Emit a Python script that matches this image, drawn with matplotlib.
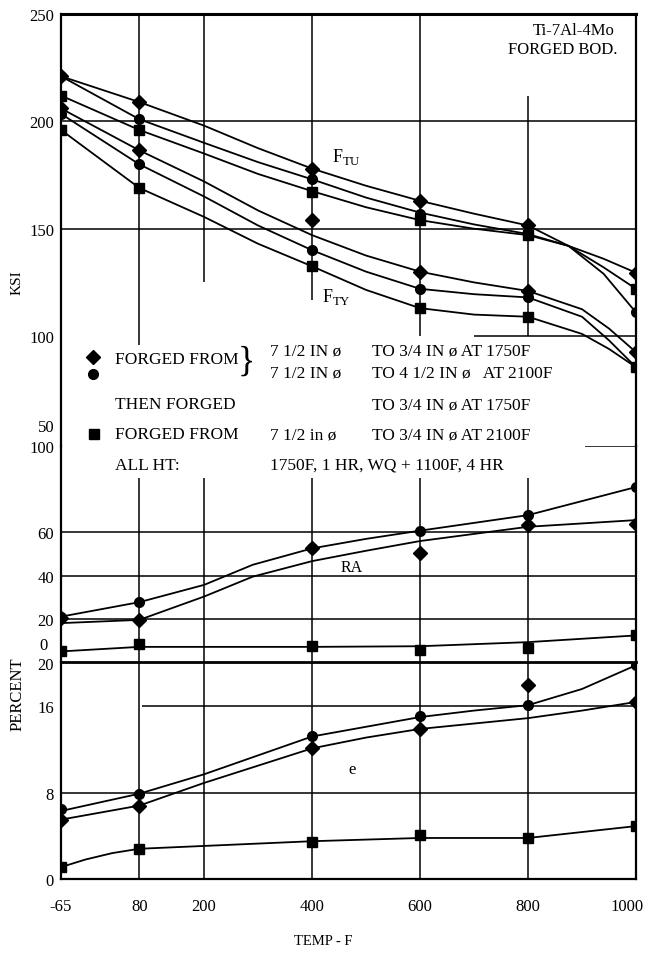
import matplotlib
matplotlib.use("Agg")
import matplotlib.pyplot as plt
import matplotlib.transforms as mtransforms
from matplotlib.lines import Line2D

plt.rcParams['font.family'] = ['Liberation Serif', 'DejaVu Serif']
plt.rcParams['mathtext.fontset'] = 'custom'
plt.rcParams['mathtext.rm'] = 'Liberation Serif'
plt.rcParams['axes.unicode_minus'] = False

### Data ###

temps = [-65, 80, 400, 600, 800, 1000]
xticks = [-65, 80, 200, 400, 600, 800, 1000]

# tensile ultimate, ksi (markers)
ftu_dia = [221, 209, 178, 163, 151.5, 129.5]
ftu_cir = [221, 201, 173, 157, 147.5, 111]
ftu_sq = [212, 196, 167, 154, 147, 122]
# tensile yield, ksi (markers)
fty_dia = [206, 186.5, 154, 130, 121, 92.5]
fty_cir = [203.5, 180, 140, 122, 118, 85.5]
fty_sq = [196, 169, 132.5, 113, 109, 85.5]

# faired curves
ftu_fit_t = [-65, 80, 200, 300, 400, 500, 600, 700, 800, 875, 940, 1000]
ftu_dia_fit = [221, 209, 198, 187.5, 178, 170, 163, 157, 151.5, 142, 136, 129.5]
ftu_cir_fit = [221, 201, 190, 181, 173, 164.5, 157.5, 152, 147.5, 142, 129, 111]
ftu_sq_fit = [212, 196, 185, 175.5, 167.5, 160, 154, 150, 147, 142, 132, 122]

fty_fit_t = [-65, 80, 200, 300, 400, 500, 600, 700, 800, 900, 950, 1000]
fty_dia_fit = [206, 186.5, 172, 158.5, 147, 137.5, 130, 125, 121, 112.5, 103.5, 92.5]
fty_cir_fit = [203.5, 180, 165, 151.5, 140, 130, 122, 119.5, 118, 109, 98, 85.5]
fty_sq_fit = [196, 169, 155.5, 143, 132.5, 121.5, 113, 110, 109, 101, 94, 85.5]

# reduction of area, percent
ra_dia = [20.6, 19.5, 52.6, 50.3, 63.4, 63.7]
ra_cir = [21, 27.7, 52.6, 60.8, 68, 81]
ra_sq = [4.9, 8.3, 7.2, 5.4, 6.5, 12.3]
ra_fit_t = [-65, 80, 200, 290, 400, 500, 600, 800, 1000]
ra_dia_fit = [18, 19.5, 30.3, 39.5, 46.7, 51.5, 56, 62.6, 65.7]
ra_cir_fit = [21, 27.7, 35.7, 45, 52.6, 57, 60.8, 68, 81]
ra_sq_fit_t = [-65, 80, 400, 600, 800, 1000]
ra_sq_fit = [4.9, 7, 7, 7.3, 9.2, 12.3]

# elongation, percent
el_dia = [5.5, 6.8, 12.1, 13.9, 18, 16.4]
el_cir = [6.5, 7.9, 13.2, 15.1, 16.1, 19.8]
el_sq = [1.1, 2.8, 3.4, 4.1, 3.8, 4.9]
el_fit_t = [-65, 80, 200, 400, 500, 600, 700, 800, 900, 1000]
el_cir_fit = [6.3, 7.9, 9.7, 13.2, 14.1, 15.0, 15.6, 16.1, 17.6, 19.8]
el_dia_fit = [5.5, 6.8, 8.9, 12.1, 13.1, 13.9, 14.4, 14.9, 15.6, 16.4]
el_sq_fit_t = [-65, -20, 30, 80, 400, 600, 800, 1000]
el_sq_fit = [1.1, 1.8, 2.4, 2.8, 3.5, 3.8, 3.8, 4.9]


### Layout helpers ###

W, H = 645, 954
X0, X1 = 61, 636


def px(x, y):
    """ pixel position -> figure fraction """
    return x / W, 1 - y / H


def make_axes(fig, ytop, ybot, ylim):
    ax = fig.add_axes([X0 / W, 1 - ybot / H, (X1 - X0) / W, (ybot - ytop) / H])
    ax.set_xlim(-65, 1000)
    ax.set_ylim(*ylim)
    ax.patch.set_alpha(0)
    for s in ax.spines.values():
        s.set_linewidth(1.6)
    ax.spines['top'].set_visible(False)
    ax.spines['bottom'].set_visible(False)
    ax.tick_params(axis='both', length=0, labelsize=12, pad=5)
    ax.set_xticks([])
    return ax


mk = dict(color='black', markersize=7, linestyle='none', zorder=5)
ln = dict(color='black', linewidth=1.3, zorder=4)
grid = dict(color='black', linewidth=1.1, zorder=1)

fig = plt.figure(figsize=(W / 100, H / 100), dpi=100)

# --- strength panel ---
ax1 = make_axes(fig, 15, 447, (48.8, 250))
ax1.spines['top'].set_visible(True)
ax1.spines['top'].set_linewidth(2.2)
ax1.set_yticks([100, 150, 200, 250])
ax1.hlines([200, 150], -65, 1000, **grid)
ax1.hlines(100, 700, 1000, **grid)
ax1.vlines([80, 200, 400, 600], [96, 125, 117, 100], 250, **grid)
ax1.vlines(800, 100, 212, **grid)

for fit_t, fits in [(ftu_fit_t, [ftu_dia_fit, ftu_cir_fit, ftu_sq_fit]),
                    (fty_fit_t, [fty_dia_fit, fty_cir_fit, fty_sq_fit])]:
    for f in fits:
        ax1.plot(fit_t, f, **ln)
for vals, m in [(ftu_dia, 'D'), (ftu_cir, 'o'), (ftu_sq, 's'),
                (fty_dia, 'D'), (fty_cir, 'o'), (fty_sq, 's')]:
    ax1.plot(temps, vals, marker=m, **mk)

# --- reduction of area panel ---
ax2 = make_axes(fig, 447, 663, (0, 100))
ax2.set_yticks([20, 40, 60, 100])
ax2.hlines([60, 40, 20], -65, 1000, **grid)
ax2.hlines(100, 905, 1000, **grid)
ax2.vlines([80, 200, 400, 600, 800], 0, 85, **grid)
ax2.plot(ra_fit_t, ra_dia_fit, **ln)
ax2.plot(ra_fit_t, ra_cir_fit, **ln)
ax2.plot(ra_sq_fit_t, ra_sq_fit, **ln)
for vals, m in [(ra_dia, 'D'), (ra_cir, 'o'), (ra_sq, 's')]:
    ax2.plot(temps, vals, marker=m, **mk)

# --- elongation panel ---
ax3 = make_axes(fig, 663, 880, (0, 20.1))
ax3.spines['top'].set_visible(True)
ax3.spines['top'].set_linewidth(2.0)
ax3.spines['bottom'].set_visible(True)
ax3.set_yticks([0, 8, 16, 20])
ax3.hlines(8, -65, 1000, **grid)
ax3.hlines(16, 85, 1000, **grid)
ax3.vlines([80, 200, 400, 600, 800], 0, 20.1, **grid)
ax3.set_xticks(xticks)
ax3.tick_params(axis='x', pad=14)
ax3.plot(el_fit_t, el_cir_fit, **ln)
ax3.plot(el_fit_t, el_dia_fit, **ln)
ax3.plot(el_sq_fit_t, el_sq_fit, **ln)
for vals, m in [(el_dia, 'D'), (el_cir, 'o'), (el_sq, 's')]:
    ax3.plot(temps, vals, marker=m, **mk)

# keep the last x label inside the picture
last = ax3.get_xticklabels()[-1]
last.set_transform(last.get_transform() +
                   mtransforms.ScaledTranslation(-9 / 100, 0, fig.dpi_scale_trans))

### Text ###

def t(x, y, s, size=12.5, **kw):
    fig.text(*px(x, y), s, fontsize=size, va='center', **kw)

t(55, 428, '50', 12, ha='right')
t(48, 646, '0', 12, ha='right')
t(615, 31, 'Ti-7Al-4Mo', 12, ha='right')
t(617, 50, 'FORGED BOD.', 12, ha='right')
t(332, 157, r'F$_{\mathregular{TU}}$', 13)
t(322, 297, r'F$_{\mathregular{TY}}$', 13)
t(352, 568, 'RA', 11.5, ha='center')
t(352, 770, 'e', 12, ha='center')
t(17, 283, 'KSI', 11, ha='center', rotation=90)
t(18, 694, 'PERCENT', 12, ha='center', rotation=90)
t(323, 942, 'TEMP - F', 10.5, ha='center')

# legend block
for (x, y), m in [((93, 358), 'D'), ((93, 375), 'o'), ((94, 435), 's')]:
    fig.add_artist(Line2D([x / W], [1 - y / H], transform=fig.transFigure,
                          marker=m, color='black', markersize=7))
t(115, 360, 'FORGED FROM')
t(246, 362, '}', 26, ha='center')
t(270, 351, '7 1/2 IN ø')
t(372, 351, 'TO 3/4 IN ø AT 1750F')
t(270, 373, '7 1/2 IN ø')
t(372, 373, 'TO 4 1/2 IN ø   AT 2100F')
t(115, 405, 'THEN FORGED')
t(372, 405, 'TO 3/4 IN ø AT 1750F')
t(115, 435, 'FORGED FROM')
t(270, 435, '7 1/2 in ø')
t(372, 435, 'TO 3/4 IN ø AT 2100F')
t(115, 466, 'ALL HT:')
t(270, 466, '1750F, 1 HR, WQ + 1100F, 4 HR')

fig.savefig('out.png', dpi=100)
